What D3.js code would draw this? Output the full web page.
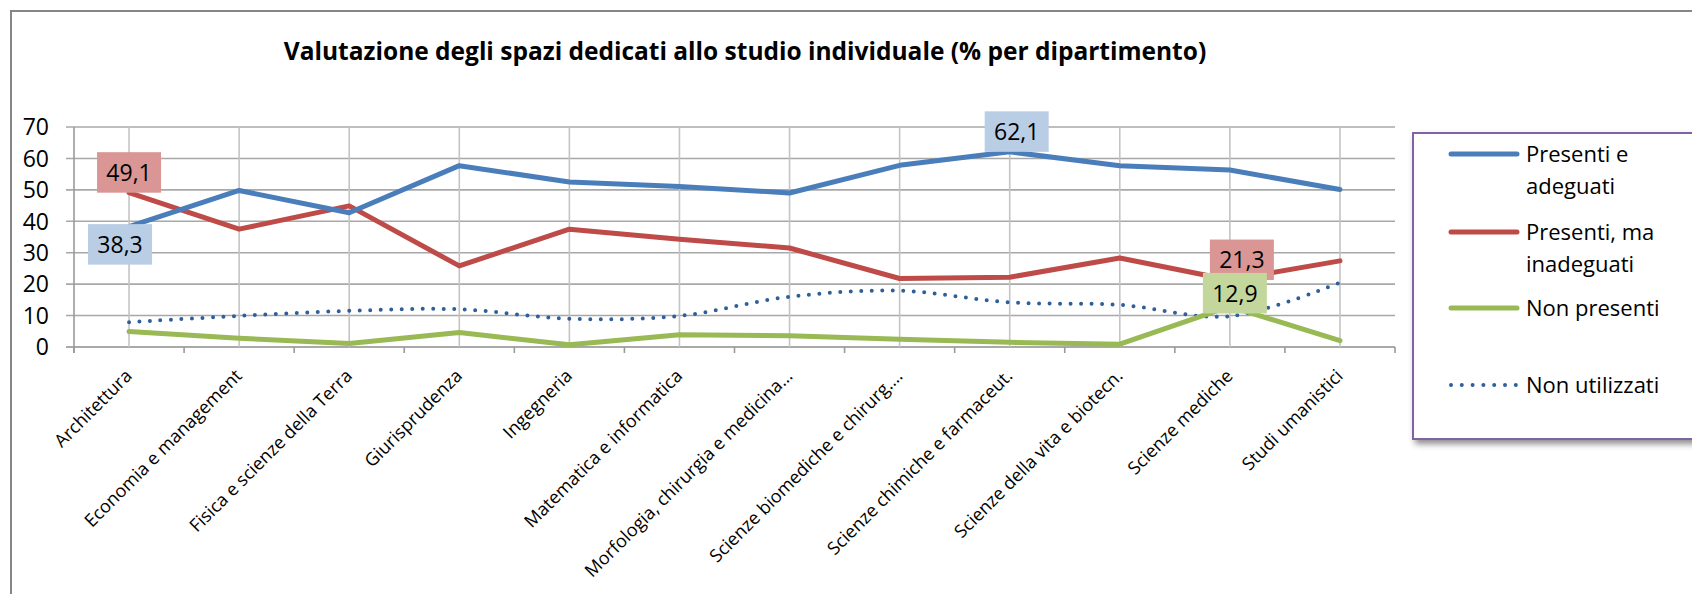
<!DOCTYPE html>
<html>
<head>
<meta charset="utf-8">
<script src="https://cdn.jsdelivr.net/npm/d3@7"></script>
<style>
  html, body { margin: 0; padding: 0; background: #ffffff; }
  svg { display: block; }
  text { font-family: "Open Sans", "Noto Sans", sans-serif; fill: #000; }
</style>
</head>
<body>
<svg id="chart" width="1692" height="594"></svg>
<script>
// ---------- data ----------
const categories = [
  "Architettura",
  "Economia e management",
  "Fisica e scienze della Terra",
  "Giurisprudenza",
  "Ingegneria",
  "Matematica e informatica",
  "Morfologia, chirurgia e medicina…",
  "Scienze biomediche e chirurg.…",
  "Scienze chimiche e farmaceut.",
  "Scienze della vita e biotecn.",
  "Scienze mediche",
  "Studi umanistici"
];
const seriesNames = ["Presenti e adeguati", "Presenti, ma inadeguati", "Non presenti", "Non utilizzati"];
const presentiAdeguati   = [38.3, 49.8, 42.7, 57.7, 52.5, 51.1, 49.0, 57.8, 62.1, 57.7, 56.3, 50.1];
const presentiInadeguati = [49.1, 37.5, 44.9, 25.8, 37.5, 34.3, 31.5, 21.8, 22.2, 28.3, 21.3, 27.4];
const nonPresenti        = [4.9, 2.8, 1.1, 4.6, 0.7, 3.9, 3.6, 2.5, 1.5, 0.9, 12.9, 2.0];
const nonUtilizzati      = [7.9, 9.9, 11.5, 12.0, 9.0, 9.9, 16.0, 17.9, 14.2, 13.4, 9.8, 20.5];
const yTicks = [0, 10, 20, 30, 40, 50, 60, 70];
const titleText = "Valutazione degli spazi dedicati allo studio individuale (% per dipartimento)";
const legendLines = [["Presenti e", "adeguati"], ["Presenti, ma", "inadeguati"], ["Non presenti"], ["Non utilizzati"]];

// ---------- styling / layout (not data) ----------
const colors = ["#4a7ebb", "#be4b48", "#98b954", "#2f5f9a"];
const labelFills = ["#b9cde5", "#d99694", "#c3d69b"];
const allSeries = [presentiAdeguati, presentiInadeguati, nonPresenti, nonUtilizzati];
// data labels shown: [series index, category index, placement, dx nudge]
const labelSpecs = [
  [0, 0, "below", -9],
  [1, 0, "above", 0],
  [0, 8, "above", 7],
  [1, 10, "above", 12],
  [2, 10, "above5", 5]
];

const svg = d3.select("#chart");
const M = { left: 74, right: 1395, top: 127, bottom: 347 };

const x = d3.scaleBand().domain(categories).range([M.left, M.right]).padding(0);
const cx = d => x(d) + x.bandwidth() / 2;
const y = d3.scaleLinear().domain([0, 70]).range([M.bottom, M.top]);

// shadow filter
const defs = svg.append("defs");
const f = defs.append("filter").attr("id", "shadow").attr("x", "-10%").attr("y", "-10%").attr("width", "130%").attr("height", "130%");
f.append("feDropShadow").attr("dx", 3).attr("dy", 4).attr("stdDeviation", 3).attr("flood-color", "#000").attr("flood-opacity", 0.45);

// outer chart border
svg.append("rect").attr("x", 11).attr("y", 11).attr("width", 1720).attr("height", 640)
  .attr("fill", "#fff").attr("stroke", "#868686").attr("stroke-width", 2);

// title
svg.append("text").attr("x", 745).attr("y", 60).attr("text-anchor", "middle")
  .style("font-weight", "bold").style("font-size", "24.5px").text(titleText);

// horizontal gridlines (with outward ticks)
const g = svg.append("g");
g.selectAll("line.h").data(yTicks).join("line")
  .attr("x1", M.left - 8).attr("x2", M.right)
  .attr("y1", d => y(d)).attr("y2", d => y(d))
  .attr("stroke", d => d === 0 ? "#8c8c8c" : "#a8a8a8").attr("stroke-width", 1.6);

// vertical gridlines through category centres
g.selectAll("line.v").data(categories).join("line")
  .attr("x1", d => cx(d)).attr("x2", d => cx(d))
  .attr("y1", M.top).attr("y2", M.bottom)
  .attr("stroke", "#c4c4c4").attr("stroke-width", 1.6);

// y axis line
g.append("line").attr("x1", M.left).attr("x2", M.left).attr("y1", M.top).attr("y2", M.bottom + 6)
  .attr("stroke", "#9a9a9a").attr("stroke-width", 1.6);

// x tick marks at category boundaries
const bounds = categories.map(c => x(c)).concat([M.right]);
g.selectAll("line.t").data(bounds).join("line")
  .attr("x1", d => d).attr("x2", d => d).attr("y1", M.bottom).attr("y2", M.bottom + 6)
  .attr("stroke", "#9a9a9a").attr("stroke-width", 1.6);

// y labels
svg.append("g").selectAll("text").data(yTicks).join("text")
  .attr("x", 49).attr("y", d => y(d) + 8.3).attr("text-anchor", "end")
  .style("font-size", "23px").text(d => d);

// x labels
svg.append("g").selectAll("text").data(categories).join("text")
  .attr("text-anchor", "end")
  .attr("transform", d => `translate(${cx(d) + 4},${M.bottom + 30}) rotate(-45)`)
  .style("font-size", "18px").text(d => d);

// lines
const lineStraight = d3.line().x((d, i) => cx(categories[i])).y(d => y(d));
const lineSmooth = d3.line().x((d, i) => cx(categories[i])).y(d => y(d)).curve(d3.curveCatmullRom.alpha(0.5));

const order = [3, 2, 1, 0];
order.forEach(si => {
  const dotted = si === 3;
  svg.append("path").datum(allSeries[si])
    .attr("d", dotted ? lineSmooth : lineStraight)
    .attr("fill", "none").attr("stroke", colors[si])
    .attr("stroke-width", dotted ? 4 : 5)
    .attr("stroke-linecap", "round").attr("stroke-linejoin", "round")
    .attr("stroke-dasharray", dotted ? "0 10.5" : null);
});

// data labels
const BW = 64, BH = 40.5;
labelSpecs.forEach(([si, ci, place, dx]) => {
  const v = allSeries[si][ci];
  const px = cx(categories[ci]) + dx;
  const py = y(v);
  let top;
  if (place === "below") top = py - 2.5;
  else if (place === "above5") top = py - BH + 7;
  else top = py - BH;
  svg.append("rect").attr("x", px - BW / 2).attr("y", top).attr("width", BW).attr("height", BH)
    .attr("fill", labelFills[si]);
  svg.append("text").attr("x", px).attr("y", top + BH / 2 + 8.3).attr("text-anchor", "middle")
    .style("font-size", "23px").text(d3.format(".1f")(v).replace(".", ","));
});

// legend
const L = svg.append("g");
L.append("rect").attr("x", 1413).attr("y", 133).attr("width", 320).attr("height", 306)
  .attr("fill", "#fff").attr("stroke", "#8064a2").attr("stroke-width", 2).attr("filter", "url(#shadow)");
const legY = [154, 232, 308, 385];
legendLines.forEach((lines, i) => {
  L.append("line").attr("x1", 1451).attr("x2", 1517).attr("y1", legY[i]).attr("y2", legY[i])
    .attr("stroke", colors[i]).attr("stroke-width", i === 3 ? 4 : 5)
    .attr("stroke-linecap", "round")
    .attr("stroke-dasharray", i === 3 ? "0 10.8" : null);
  const t = L.append("text").attr("x", 1526).attr("y", legY[i] + 8).style("font-size", "22px");
  lines.forEach((s, k) => t.append("tspan").attr("x", 1526).attr("dy", k === 0 ? 0 : 32).text(s));
});
</script>
</body>
</html>
